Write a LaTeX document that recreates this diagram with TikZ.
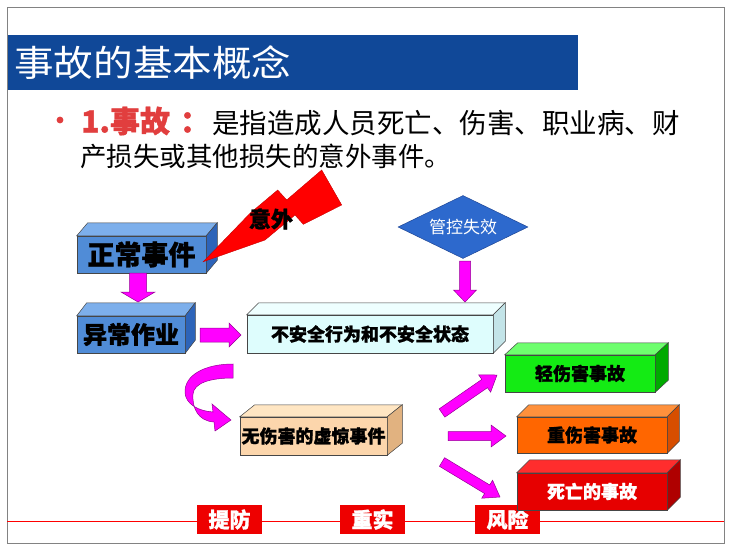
\documentclass[tikz,border=0pt]{standalone}
\usepackage{fontspec}
\setmainfont{Noto Sans CJK SC}[BoldFeatures={FakeBold=1.2}]
\usetikzlibrary{calc,shapes.geometric}
\definecolor{titleblue}{RGB}{16,72,152}
\definecolor{framegray}{RGB}{130,130,130}
\definecolor{bulletred}{RGB}{225,62,62}
\definecolor{edgegray}{RGB}{70,70,70}
\definecolor{bluefront}{RGB}{80,140,215}
\definecolor{bluetop}{RGB}{125,175,235}
\definecolor{blueside}{RGB}{45,100,185}
\definecolor{cyanfront}{RGB}{222,253,253}
\definecolor{cyantop}{RGB}{238,255,255}
\definecolor{cyanside}{RGB}{195,228,232}
\definecolor{beigefront}{RGB}{252,214,172}
\definecolor{beigetop}{RGB}{255,230,195}
\definecolor{beigeside}{RGB}{225,178,128}
\definecolor{greenfront}{RGB}{20,235,20}
\definecolor{greentop}{RGB}{110,255,110}
\definecolor{greenside}{RGB}{0,170,0}
\definecolor{orangefront}{RGB}{255,102,0}
\definecolor{orangetop}{RGB}{255,145,60}
\definecolor{orangeside}{RGB}{215,78,0}
\definecolor{redfront}{RGB}{230,0,0}
\definecolor{redtop}{RGB}{255,45,45}
\definecolor{redside}{RGB}{175,0,0}
\definecolor{labelred}{RGB}{238,0,0}
\definecolor{arrowfill}{RGB}{255,0,255}
\definecolor{arrowedge}{RGB}{150,0,150}
\definecolor{diamondblue}{RGB}{45,105,205}
\definecolor{diamondedge}{RGB}{30,70,150}
\newcommand{\cubefaces}[5]{%
  \draw[edgegray, line width=0.5pt, fill=#4] (#1.north west) -- ++(#2,#3) -- ($(#1.north east)+(#2,#3)$) -- (#1.north east) -- cycle;
  \draw[edgegray, line width=0.5pt, fill=#5] (#1.north east) -- ($(#1.north east)+(#2,#3)$) -- ($(#1.south east)+(#2,#3)$) -- (#1.south east) -- cycle;}
\newcommand{\blockarrow}[5]{%
  \path[arrowstyle] let \p1=(#1), \p2=(#2), \n1={atan2(\y2-\y1,\x2-\x1)}, \n2={veclen(\x2-\x1,\y2-\y1)} in
    [shift={(\p1)}, rotate=\n1]
    (0,#3) -- ({\n2-#5},#3) -- ({\n2-#5},#4) -- (\n2,0) -- ({\n2-#5},-#4) -- ({\n2-#5},-#3) -- (0,-#3) -- cycle;}
\begin{document}
\begin{tikzpicture}[x=1pt,y=-1pt,
  arrowstyle/.style={fill=arrowfill, draw=arrowedge, line width=0.5pt},
  cube/.style={draw=edgegray, line width=0.5pt, inner sep=0pt, font=\bfseries\fontsize{18}{18}\selectfont},
  redlabel/.style={fill=labelred, inner sep=0pt, minimum width=65pt, minimum height=29pt, text=white, font=\bfseries\fontsize{21}{21}\selectfont}]
\useasboundingbox (0,0) rectangle (730,551);
\fill[white] (0,0) rectangle (730,551);
\draw[framegray, line width=1pt] (7,8) rectangle (724,543);
% title
\fill[titleblue] (8,35) rectangle (578,90);
\node[anchor=west, inner sep=0pt, text=white, font=\fontsize{36}{36}\selectfont, xscale=1.1, transform shape] (title) at (14,63) {事故的基本概念};
% bullet
\fill[bulletred] (60,120) circle (3.4);
\node[anchor=west, inner sep=0pt, text=bulletred, font=\bfseries\fontsize{30}{30}\selectfont] (def1) at (81,121) {1.事故\kern10pt：};
\node[anchor=west, inner sep=0pt, font=\fontsize{27.5}{27.5}\selectfont] (def2) at (212,123) {是指造成人员死亡、伤害、职业病、财};
\node[anchor=west, inner sep=0pt, font=\fontsize{26.5}{26.5}\selectfont] (def3) at (80,156) {产损失或其他损失的意外事件。};
% bottom line and labels
\draw[red, line width=1pt] (7,521) -- (724,521);
\node[redlabel] (l1) at (229.5,519.5) {提防};
\node[redlabel] (l2) at (372.5,519.5) {重实};
\node[redlabel] (l3) at (507.5,519.5) {风险};
% boxes
\node[cube, fill=bluefront, minimum width=129pt, minimum height=37pt, font=\bfseries\fontsize{27}{27}\selectfont] (n1) at (141.5,254.5) {正常事件};
\cubefaces{n1}{11}{-13}{bluetop}{blueside}
\node[cube, fill=bluefront, minimum width=108pt, minimum height=37pt, font=\bfseries\fontsize{24}{24}\selectfont] (n2) at (131,334.5) {异常作业};
\cubefaces{n2}{10}{-13}{bluetop}{blueside}
\node[cube, fill=cyanfront, minimum width=246pt, minimum height=38pt] (n3) at (370,334) {不安全行为和不安全状态};
\cubefaces{n3}{12}{-12}{cyantop}{cyanside}
\node[cube, fill=beigefront, minimum width=147pt, minimum height=38pt] (n4) at (313.5,436) {无伤害的虚惊事件};
\cubefaces{n4}{15}{-12}{beigetop}{beigeside}
\node[cube, fill=greenfront, minimum width=150pt, minimum height=37pt] (n5) at (580,373.5) {轻伤害事故};
\cubefaces{n5}{13}{-12}{greentop}{greenside}
\node[cube, fill=orangefront, minimum width=150pt, minimum height=36pt] (n6) at (592,435) {重伤害事故};
\cubefaces{n6}{12}{-12}{orangetop}{orangeside}
\node[cube, fill=redfront, text=white, minimum width=150pt, minimum height=37pt] (n7) at (592,491.5) {死亡的事故};
\cubefaces{n7}{13}{-13}{redtop}{redside}
% diamond
\node[diamond, aspect=2, inner sep=0pt, minimum width=130pt, minimum height=63pt, fill=diamondblue, draw=diamondedge, line width=0.5pt, text=white, font=\fontsize{17}{17}\selectfont] (d) at (463,227) {管控失效};
% lightning
\fill[red, draw={rgb,255:red,200;green,0;blue,0}, line width=0.4pt] (203.3,261.7) -- (250,213.3) -- (277.7,190) -- (286.7,200) -- (321.7,170) -- (341.7,205) -- (303.3,224.3) -- (295,215) -- (265,240) -- cycle;
\node[inner sep=0pt, font=\bfseries\fontsize{22}{22}\selectfont] (yw) at (271,219) {意外};
% arrow end points
\coordinate (a1s) at (138,273);  \coordinate (a1e) at (138,302);
\coordinate (a2s) at (200,335);  \coordinate (a2e) at (241,335);
\coordinate (a3s) at (465,261);  \coordinate (a3e) at (465,302);
\coordinate (a4s) at (442,413);  \coordinate (a4e) at (497,375);
\coordinate (a5s) at (448,436);  \coordinate (a5e) at (506,436);
\coordinate (a6s) at (442,462);  \coordinate (a6e) at (500,497);
\blockarrow{a1s}{a1e}{8.5}{17}{10}
\blockarrow{a2s}{a2e}{7}{12}{12}
\blockarrow{a3s}{a3e}{5.5}{11.5}{12}
\blockarrow{a4s}{a4e}{5}{10.5}{15}
\blockarrow{a5s}{a5e}{4.5}{11}{15}
\blockarrow{a6s}{a6e}{5}{10.5}{15}
% curved arrow
\path[arrowstyle] (233,364) .. controls (205,364) and (184,375) .. (185,393) .. controls (186,404) and (198,411) .. (213,412) -- (212,404) -- (231,420) -- (215,431) -- (214,422) .. controls (198,421) and (192,408) .. (193,394) .. controls (194,383) and (210,378) .. (233,378) -- cycle;
\end{tikzpicture}
\end{document}
